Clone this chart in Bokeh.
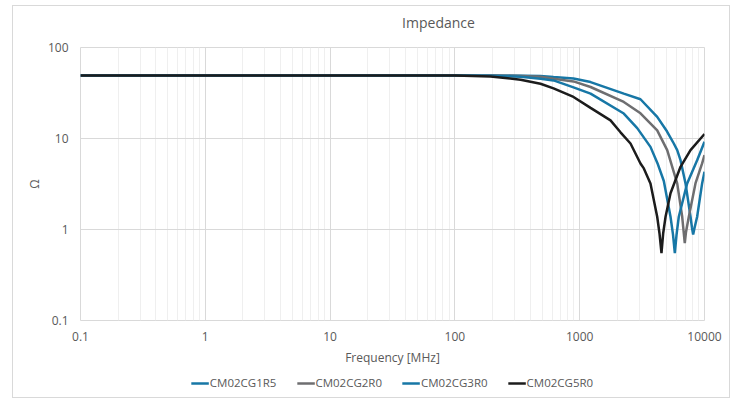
from bokeh.plotting import figure
from bokeh.layouts import column
from bokeh.models import FixedTicker, CustomJSTickFormatter, Legend, LegendItem, Range1d, Label
from bokeh.embed import file_html
from bokeh.resources import INLINE

# ---- data (Frequency in MHz, impedance in Ohm) ----
chart_title = "Impedance"
series_names = ["CM02CG1R5", "CM02CG2R0", "CM02CG3R0", "CM02CG5R0"]

f_1r5 = [0.1, 1, 10, 100, 250, 485, 617, 892, 1222, 2256, 3069, 4178, 5000, 5675, 6043, 6425, 7046, 7727, 7943, 8110, 8318, 8730, 9570, 10000]
z_1r5 = [49.3, 49.3, 49.3, 49.3, 49.2, 48.5, 47.3, 45.7, 41.7, 31.1, 27.0, 17.3, 12.0, 8.81, 7.45, 5.78, 3.21, 1.38, 1.04, 0.88, 1.04, 1.38, 3.21, 4.31]

f_2r0 = [0.1, 1, 10, 100, 200, 336, 485, 617, 892, 1222, 2256, 3069, 4178, 5025, 6043, 6627, 6808, 6950, 7110, 7486, 8466, 9570, 10000]
z_2r0 = [49.3, 49.3, 49.3, 49.3, 49.2, 48.5, 47.6, 45.4, 42.4, 36.8, 25.2, 18.9, 12.3, 7.45, 3.21, 1.38, 0.94, 0.71, 0.94, 1.38, 3.21, 5.32, 6.56]

f_3r0 = [0.1, 1, 10, 100, 193, 336, 485, 617, 892, 1222, 2256, 2890, 3690, 4198, 4720, 5342, 5594, 5784, 5970, 6223, 7261, 8730, 10000]
z_3r0 = [49.3, 49.3, 49.3, 49.3, 49.0, 47.6, 45.4, 43.5, 36.5, 31.1, 18.8, 13.0, 8.09, 5.36, 3.41, 1.38, 0.88, 0.55, 0.88, 1.38, 3.21, 5.78, 9.2]

f_5r0 = [0.1, 1, 10, 50, 100, 193, 336, 485, 617, 892, 1222, 1766, 2123, 2553, 3069, 3265, 3690, 4178, 4357, 4522, 4667, 4875, 5342, 6425, 7727, 10000]
z_5r0 = [49.3, 49.3, 49.3, 49.3, 49.2, 48.0, 44.3, 40.0, 35.6, 28.6, 21.7, 15.8, 11.7, 8.81, 5.32, 4.69, 3.21, 1.38, 0.91, 0.55, 0.91, 1.38, 2.50, 4.89, 7.45, 11.2]

x_ticks = [0.1, 1, 10, 100, 1000, 10000]
y_ticks = [0.1, 1, 10, 100]

colors = ["#1777a6", "#6e6e70", "#1777a6", "#1c1c1c"]
series = [(f_1r5, z_1r5), (f_2r0, z_2r0), (f_3r0, z_3r0), (f_5r0, z_5r0)]

txt = "#595959"
font = "Open Sans"
W = 716

# ---- title strip ----
t = figure(width=W, height=30, output_backend="svg", toolbar_location=None,
           x_range=Range1d(0, 1), y_range=Range1d(0, 1),
           x_axis_location=None, y_axis_location=None,
           min_border_left=0, min_border_right=0, min_border_top=0, min_border_bottom=0)
t.grid.visible = False
t.outline_line_color = None
t.add_layout(Label(x=W / 2, y=14, x_units="screen", y_units="screen", text=chart_title,
                   text_align="center", text_baseline="middle", text_font=font,
                   text_font_size="14px", text_color=txt))

# ---- main chart ----
p = figure(width=W, height=332, x_axis_type="log", y_axis_type="log",
           x_range=Range1d(0.1, 10000), y_range=Range1d(0.1, 100),
           output_backend="svg", toolbar_location=None,
           min_border_left=67, min_border_right=25, min_border_top=11, min_border_bottom=47)

minor_x = []
for d in [0.1, 1, 10, 100, 1000]:
    for k in range(2, 10):
        minor_x.append(d * k)

p.xaxis.ticker = FixedTicker(ticks=x_ticks, minor_ticks=minor_x)
p.yaxis.ticker = FixedTicker(ticks=y_ticks, minor_ticks=[])
fmt = "return tick.toString();"
p.xaxis.formatter = CustomJSTickFormatter(code=fmt)
p.yaxis.formatter = CustomJSTickFormatter(code=fmt)

for ax in (p.xaxis, p.yaxis):
    ax.axis_line_color = None
    ax.major_tick_line_color = None
    ax.minor_tick_line_color = None
    ax.major_tick_out = 0
    ax.major_tick_in = 0
    ax.minor_tick_out = 0
    ax.minor_tick_in = 0
    ax.major_label_text_font = font
    ax.major_label_text_font_size = "12px"
    ax.major_label_text_color = txt
    ax.axis_label_text_font = font
    ax.axis_label_text_font_size = "12px"
    ax.axis_label_text_color = txt
    ax.axis_label_text_font_style = "normal"

p.xaxis.axis_label = "Frequency [MHz]"
p.yaxis.axis_label = "Ω"
p.xaxis.major_label_standoff = 11
p.yaxis.major_label_standoff = 12
p.xaxis.axis_label_standoff = 5
p.yaxis.axis_label_standoff = 2

p.xgrid.grid_line_color = "#d9d9d9"
p.xgrid.minor_grid_line_color = "#efefef"
p.ygrid.grid_line_color = "#d9d9d9"
p.outline_line_color = "#d9d9d9"

for s, c in zip(series, colors):
    p.line(s[0], s[1], line_color=c, line_width=2.5)

# ---- legend strip below the chart (sample lines kept outside the visible range) ----
q = figure(width=W, height=29, output_backend="svg", toolbar_location=None,
           x_range=Range1d(10, 11), y_range=Range1d(10, 11),
           x_axis_location=None, y_axis_location=None,
           min_border_left=0, min_border_right=0, min_border_top=0, min_border_bottom=0)
q.grid.visible = False
q.outline_line_color = None
items = []
for name, c in zip(series_names, colors):
    r = q.line(x=[0, 1], y=[0, 0], line_color=c, line_width=2.5)
    items.append(LegendItem(label=name, renderers=[r]))
legend = Legend(items=items, orientation="horizontal", location="center",
                label_text_font=font, label_text_font_size="11.5px", label_text_color=txt,
                glyph_width=18, label_standoff=1, spacing=20, border_line_color=None,
                background_fill_alpha=0, margin=0, padding=0)
q.add_layout(legend, "center")

layout = column(t, p, q, spacing=0,
                styles={"margin-left": "12px", "margin-top": "5px", "border": "1px solid #d9d9d9"})

open("out.html", "w").write(file_html(layout, INLINE))
